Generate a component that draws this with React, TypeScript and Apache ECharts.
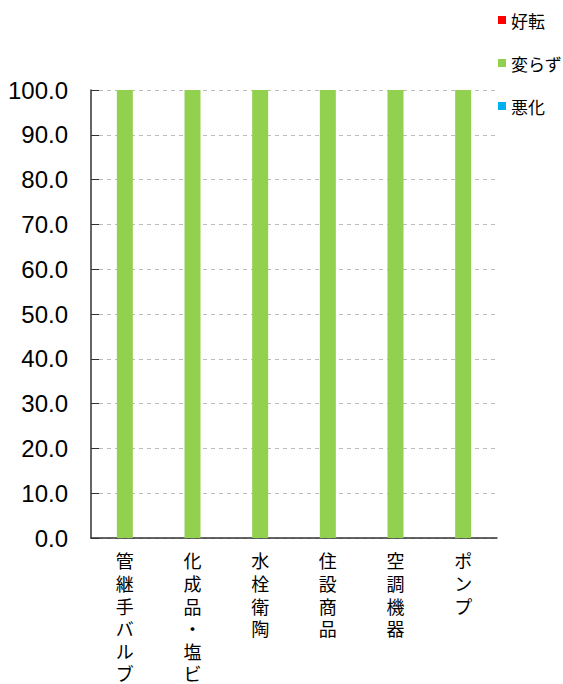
import React, { useEffect, useRef } from "react";
import * as echarts from "echarts";

const categories = ["管継手バルブ", "化成品・塩ビ", "水栓衛陶", "住設商品", "空調機器", "ポンプ"];
const seriesNames = ["好転", "変らず", "悪化"];
const improved = [0, 0, 0, 0, 0, 0];
const unchanged = [100, 100, 100, 100, 100, 100];
const worsened = [0, 0, 0, 0, 0, 0];
const colors = ["#FF0000", "#92D050", "#00B0F0"];

export default function App() {
  const ref = useRef<HTMLDivElement>(null);
  useEffect(() => {
    document.body.style.margin = "0";
    const chart = echarts.init(ref.current!, null, { renderer: "svg" });
    const values = [improved, unchanged, worsened];
    chart.setOption({
      animation: false,
      backgroundColor: "#ffffff",
      legend: {
        orient: "vertical",
        left: 493,
        top: 6,
        itemWidth: 8,
        itemHeight: 8,
        itemGap: 25,
        icon: "rect",
        data: seriesNames,
        textStyle: { fontSize: 17, lineHeight: 18, color: "#000", fontFamily: "Noto Sans CJK JP" },
      },
      grid: { left: 91, right: 66, top: 90, bottom: 146, containLabel: false, outerBoundsMode: "none" },
      xAxis: {
        type: "category",
        data: categories,
        axisLine: { lineStyle: { color: "#333", width: 1.5 } },
        axisTick: { inside: true, length: 5, lineStyle: { color: "#333" } },
        axisLabel: {
          interval: 0,
          margin: 11,
          fontSize: 18,
          lineHeight: 22.6,
          color: "#000",
          fontFamily: "Noto Sans CJK JP",
          verticalAlign: "top",
          formatter: (v: string) => v.split("").join("\n"),
        },
      },
      yAxis: {
        type: "value",
        min: 0,
        max: 100,
        interval: 10,
        axisLine: { show: true, lineStyle: { color: "#333", width: 1.5 } },
        axisTick: { show: true, inside: true, length: 8, lineStyle: { color: "#333" } },
        splitLine: { lineStyle: { color: "#bbb", type: [4, 4] } },
        axisLabel: {
          margin: 23,
          fontSize: 24,
          color: "#000",
          fontFamily: "Liberation Sans Narrow, Liberation Sans, Arial",
          padding: [9, 0, 0, 0],
          formatter: (v: number) => v.toFixed(1),
        },
      },
      series: seriesNames.map((name, i) => ({
        name,
        type: "bar",
        stack: "total",
        barWidth: 16,
        itemStyle: { color: colors[i] },
        data: values[i],
      })),
    });
    return () => chart.dispose();
  }, []);
  return <div ref={ref} style={{ width: 563, height: 684 }} />;
}
